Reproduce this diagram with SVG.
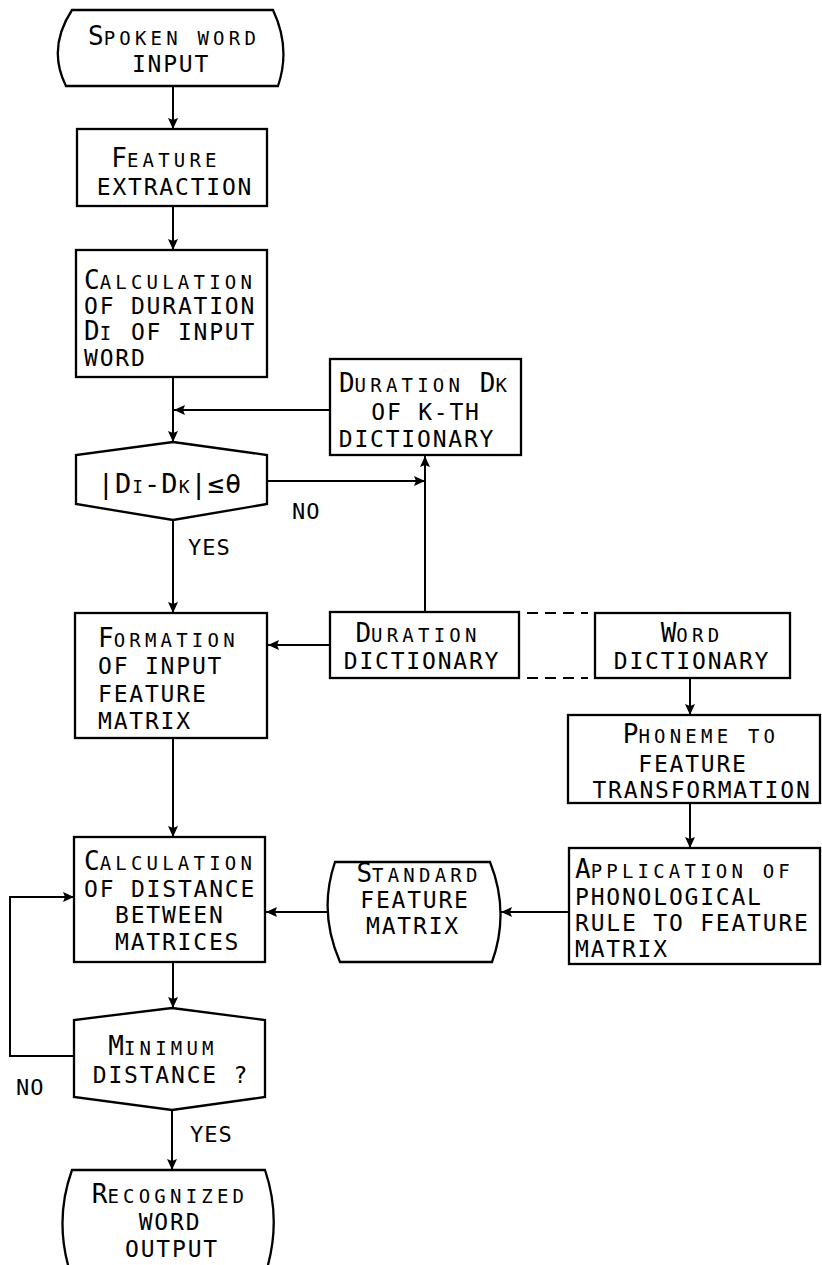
<svg xmlns="http://www.w3.org/2000/svg" width="822" height="1265" viewBox="0 0 822 1265">
<style>
.bg{fill:#fff}
.n{fill:none;stroke:#000;stroke-width:2.3;stroke-linejoin:miter}
.c{fill:none;stroke:#000;stroke-width:2}
.d{fill:none;stroke:#000;stroke-width:2.2;stroke-dasharray:11 7}
.t{font-family:'DejaVu Sans Mono','Liberation Mono',monospace;font-size:23px;letter-spacing:1.8px;fill:#000}
.m{text-anchor:middle}
.sc{font-size:19px;letter-spacing:4.2px}
.ini{font-size:26px;letter-spacing:0}
.lb{font-family:'DejaVu Sans Mono','Liberation Mono',monospace;font-size:22px;letter-spacing:1px;fill:#000}
</style>
<defs>
<marker id="ah" markerUnits="userSpaceOnUse" markerWidth="12" markerHeight="10" refX="11" refY="5" orient="auto">
<path d="M0,0 L11,5 L0,10 L2,5 Z" fill="#000"/>
</marker>
</defs>
<rect class="bg" x="0" y="0" width="822" height="1265"/>

<g id="connectors">
<line class="c" x1="173" y1="86" x2="173" y2="129" marker-end="url(#ah)"/>
<line class="c" x1="173" y1="206" x2="173" y2="250" marker-end="url(#ah)"/>
<line class="c" x1="173" y1="377" x2="173" y2="442" marker-end="url(#ah)"/>
<line class="c" x1="330" y1="410" x2="174" y2="410" marker-end="url(#ah)"/>
<line class="c" x1="267" y1="481" x2="425" y2="481" marker-end="url(#ah)"/>
<line class="c" x1="425" y1="612" x2="425" y2="456" marker-end="url(#ah)"/>
<line class="c" x1="173" y1="520" x2="173" y2="613" marker-end="url(#ah)"/>
<line class="c" x1="330" y1="645" x2="268" y2="645" marker-end="url(#ah)"/>
<line class="d" x1="527" y1="613" x2="588" y2="613"/>
<line class="d" x1="527" y1="678" x2="588" y2="678"/>
<line class="c" x1="690" y1="678" x2="690" y2="715" marker-end="url(#ah)"/>
<line class="c" x1="690" y1="803" x2="690" y2="848" marker-end="url(#ah)"/>
<line class="c" x1="569" y1="912" x2="501" y2="912" marker-end="url(#ah)"/>
<line class="c" x1="329" y1="912" x2="266" y2="912" marker-end="url(#ah)"/>
<line class="c" x1="173" y1="738" x2="173" y2="837" marker-end="url(#ah)"/>
<line class="c" x1="173" y1="962" x2="173" y2="1008" marker-end="url(#ah)"/>
<polyline class="c" points="74,1056 10,1056 10,897 74,897" marker-end="url(#ah)"/>
<line class="c" x1="172" y1="1110" x2="172" y2="1170" marker-end="url(#ah)"/>
</g>

<g id="n-spoken">
<path class="n" d="M72,10 L273,10 Q291,48 278,86 L66,86 Q47,48 72,10 Z"/>
<text class="t m" x="174" y="45"><tspan class="ini">S</tspan><tspan class="sc">POKEN WORD</tspan></text>
<text class="t m" x="171" y="72">INPUT</text>
</g>

<g id="n-feature">
<rect class="n" x="77" y="129" width="190" height="77"/>
<text class="t m" x="166" y="167"><tspan class="ini">F</tspan><tspan class="sc">EATURE</tspan></text>
<text class="t m" x="175" y="195">EXTRACTION</text>
</g>

<g id="n-calcdur">
<rect class="n" x="76" y="250" width="191" height="127"/>
<text class="t" x="84" y="289"><tspan class="ini">C</tspan><tspan class="sc">ALCULATION</tspan></text>
<text class="t" x="84" y="314">OF DURATION</text>
<text class="t" x="84" y="340"><tspan class="ini">D</tspan><tspan class="sc">I</tspan> OF INPUT</text>
<text class="t" x="84" y="366">WORD</text>
</g>

<g id="n-dec1">
<polygon class="n" points="173,442 267,455 267,504 173,520 76,504 76,455"/>
<text class="t m" x="170" y="493" style="font-size:27px;letter-spacing:1px"><tspan>|D</tspan><tspan style="font-size:18px">I</tspan><tspan>-D</tspan><tspan style="font-size:18px">K</tspan><tspan>|≤θ</tspan></text>
</g>

<g id="n-durk">
<rect class="n" x="330" y="359" width="191" height="96"/>
<text class="t m" x="425" y="392"><tspan class="ini">D</tspan><tspan class="sc">URATION </tspan><tspan class="ini">D</tspan><tspan class="sc">K</tspan></text>
<text class="t m" x="426" y="420">OF K-TH</text>
<text class="t m" x="417" y="447">DICTIONARY</text>
</g>

<g id="n-formation">
<rect class="n" x="75" y="613" width="192" height="125"/>
<text class="t" x="98" y="647"><tspan class="ini">F</tspan><tspan class="sc">ORMATION</tspan></text>
<text class="t" x="98" y="674">OF INPUT</text>
<text class="t" x="98" y="702">FEATURE</text>
<text class="t" x="98" y="729">MATRIX</text>
</g>

<g id="n-durdict">
<rect class="n" x="330" y="612" width="189" height="66"/>
<text class="t m" x="418" y="642"><tspan class="ini">D</tspan><tspan class="sc">URATION</tspan></text>
<text class="t m" x="422" y="669">DICTIONARY</text>
</g>

<g id="n-worddict">
<rect class="n" x="595" y="613" width="195" height="65"/>
<text class="t m" x="692" y="642"><tspan class="ini">W</tspan><tspan class="sc">ORD</tspan></text>
<text class="t m" x="692" y="669">DICTIONARY</text>
</g>

<g id="n-phoneme">
<rect class="n" x="568" y="715" width="252" height="88"/>
<text class="t m" x="701" y="743"><tspan class="ini">P</tspan><tspan class="sc">HONEME TO</tspan></text>
<text class="t m" x="693" y="772">FEATURE</text>
<text class="t m" x="702" y="798">TRANSFORMATION</text>
</g>

<g id="n-application">
<rect class="n" x="569" y="848" width="251" height="116"/>
<text class="t" x="575" y="878"><tspan class="ini">A</tspan><tspan class="sc">PPLICATION OF</tspan></text>
<text class="t" x="575" y="905">PHONOLOGICAL</text>
<text class="t" x="575" y="931">RULE TO FEATURE</text>
<text class="t" x="575" y="957">MATRIX</text>
</g>

<g id="n-standard">
<path class="n" d="M335,862 L490,862 Q510,912 492,962 L340,962 Q318,912 335,862 Z"/>
<text class="t m" x="419" y="882"><tspan class="ini">S</tspan><tspan class="sc">TANDARD</tspan></text>
<text class="t m" x="415" y="908">FEATURE</text>
<text class="t m" x="413" y="934">MATRIX</text>
</g>

<g id="n-calcdist">
<rect class="n" x="74" y="837" width="191" height="125"/>
<text class="t" x="84" y="870"><tspan class="ini">C</tspan><tspan class="sc">ALCULATION</tspan></text>
<text class="t" x="84" y="897">OF DISTANCE</text>
<text class="t" x="115" y="923">BETWEEN</text>
<text class="t" x="115" y="950">MATRICES</text>
</g>

<g id="n-dec2">
<polygon class="n" points="172,1008 265,1020 265,1097 172,1110 74,1097 74,1020"/>
<text class="t m" x="163" y="1055"><tspan class="ini">M</tspan><tspan class="sc">INIMUM</tspan></text>
<text class="t m" x="171" y="1083">DISTANCE ?</text>
</g>

<g id="n-output">
<path class="n" d="M72,1170 L265,1170 Q282,1220 266,1272 L70,1272 Q54,1220 72,1170 Z"/>
<text class="t m" x="170" y="1203"><tspan class="ini">R</tspan><tspan class="sc">ECOGNIZED</tspan></text>
<text class="t m" x="170" y="1230">WORD</text>
<text class="t m" x="172" y="1257">OUTPUT</text>
</g>

<g id="labels">
<text class="lb" x="292" y="519">NO</text>
<text class="lb" x="188" y="555">YES</text>
<text class="lb" x="16" y="1095">NO</text>
<text class="lb" x="190" y="1142">YES</text>
</g>
</svg>
